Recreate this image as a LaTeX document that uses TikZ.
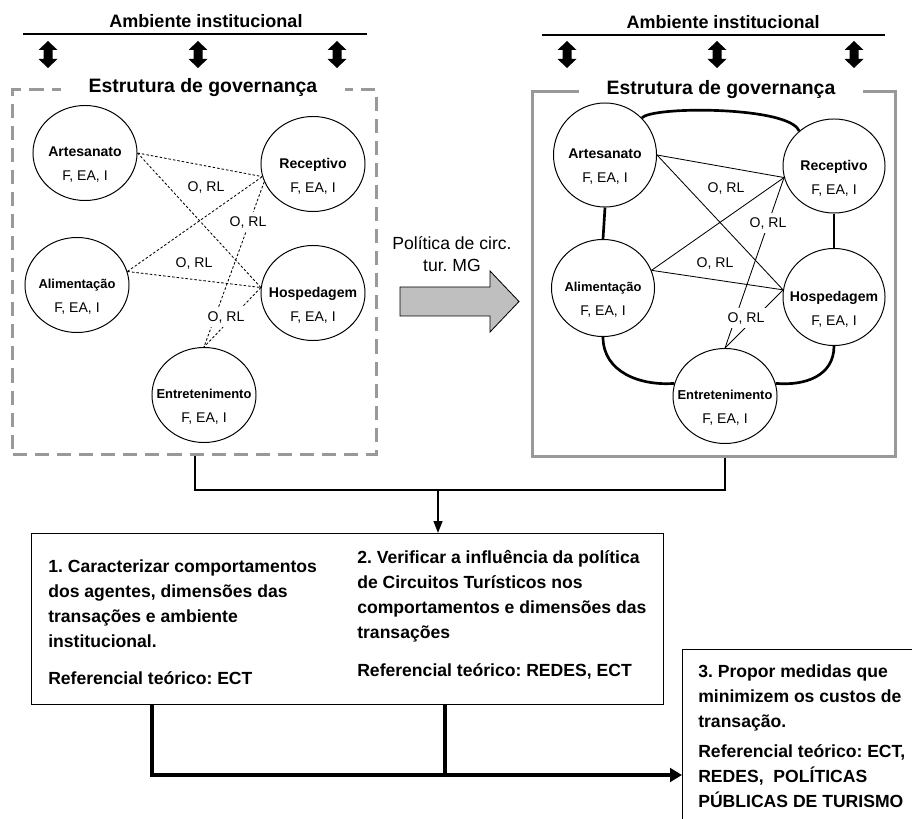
\documentclass[tikz,border=0pt]{standalone}
\usepackage{fontspec}
\setmainfont{Liberation Sans}
\usetikzlibrary{shapes.geometric, arrows.meta, positioning}
\frenchspacing

\begin{document}
\begin{tikzpicture}[x=0.025cm, y=-0.025cm,
  agent/.style={ellipse, draw, line width=0.7pt, minimum width=26mm, minimum height=23.75mm, inner sep=0pt},
  agtext/.style={align=center, yshift=-3mm, font=\fontsize{10}{17}\selectfont},
  rel/.style={fill=white, inner sep=1mm, font=\fontsize{10}{12}\selectfont},
  weak/.style={line width=0.6pt, dash pattern=on 1.8pt off 1.4pt},
  tie/.style={line width=0.6pt},
  strong/.style={line width=1.9pt},
  govbox/.style={draw=black!40, line width=2.1pt, inner sep=0pt},
  govtitle/.style={fill=white, inner xsep=7mm, inner ysep=0.5mm, font=\fontsize{13.8}{16}\selectfont\bfseries},
  ambtitle/.style={font=\fontsize{12.8}{15}\selectfont\bfseries},
  flow/.style={line width=1.4pt},
  bigflow/.style={line width=2.4pt},
  goaltext/.style={align=left, anchor=north west, inner sep=0pt, font=\fontsize{12.5}{17.8}\selectfont\bfseries},
]
\useasboundingbox (0,0) rectangle (912,819);
\clip (0,0) rectangle (912,819);

% ambiente institucional
\node[ambtitle] (ambL) at (206,21) {Ambiente institucional};
\node[ambtitle] (ambR) at (723,22) {Ambiente institucional};
\draw[line width=2.1pt] (23,34) -- (367,34);
\draw[line width=2.1pt] (542,35) -- (885,35);
\foreach \ax in {48,198,337,567,717,854}
    \fill (\ax-4.5,50) -- (\ax-9.5,50) -- (\ax,41) -- (\ax+9.5,50) -- (\ax+4.5,50) -- (\ax+4.5,59) -- (\ax+9.5,59) -- (\ax,68) -- (\ax-9.5,59) -- (\ax-4.5,59) -- cycle;

% estrutura de governanca - antes
\node[govbox, dash pattern=on 10pt off 5.7pt, minimum width=90.75mm, minimum height=91mm] (govL) at (194.5,272) {};
\node[govtitle] (titL) at (203,88) {Estrutura de governança};

\node[agent, label={[agtext]center:{\textbf{Artesanato}\\F, EA, I}}] (artL) at (85,153) {};
\node[agent, label={[agtext]center:{\textbf{Receptivo}\\F, EA, I}}] (recL) at (313,164) {};
\node[agent, label={[agtext]center:{\textbf{\fontsize{9.2}{17}\selectfont Alimentação}\\F, EA, I}}] (aliL) at (77,285) {};
\node[agent, label={[agtext]center:{\textbf{Hospedagem}\\F, EA, I}}] (hosL) at (313,293) {};
\node[agent, label={[agtext]center:{\textbf{\fontsize{9.2}{17}\selectfont Entretenimento}\\F, EA, I}}] (entL) at (204,395) {};

\draw[weak] (artL.east) -- (recL.194);
\draw[weak] (artL.east) -- (hosL.174);
\draw[weak] (aliL.15) -- (recL.194);
\draw[weak] (aliL.15) -- (hosL.174);
\draw[weak] (recL.200) -- (entL.90);
\draw[weak] (hosL.174) -- (entL.90);

\node[rel] (r1L) at (206,187) {O, RL};
\node[rel] (r2L) at (248,222) {O, RL};
\node[rel] (r3L) at (194,263) {O, RL};
\node[rel] (r4L) at (226,317) {O, RL};

% politica
\filldraw[fill=black!25, line width=0.6pt] (400,287) -- (490,287) -- (490,271) -- (519,301.5) -- (490,332) -- (490,316) -- (400,316) -- cycle;
\node[font=\fontsize{12.5}{15.6}\selectfont, align=center] (policy) at (452,254) {Política de circ.\\tur. MG};

% estrutura de governanca - depois
\node[govbox, minimum width=90.5mm, minimum height=91mm] (govR) at (714,274) {};
\node[govtitle] (titR) at (721,90) {Estrutura de governança};

\node[agent, minimum width=25.75mm, minimum height=26mm, label={[agtext]center:{\textbf{Artesanato}\\F, EA, I}}] (artR) at (605,155) {};
\node[agent, minimum width=25.5mm, minimum height=23.5mm, label={[agtext]center:{\textbf{Receptivo}\\F, EA, I}}] (recR) at (834,166) {};
\node[agent, minimum width=25.75mm, minimum height=24.25mm, label={[agtext]center:{\textbf{\fontsize{9.2}{17}\selectfont Alimentação}\\F, EA, I}}] (aliR) at (603,288) {};
\node[agent, minimum width=25.5mm, minimum height=24.25mm, label={[agtext]center:{\textbf{Hospedagem}\\F, EA, I}}] (hosR) at (834,297) {};
\node[agent, minimum width=26mm, minimum height=23.75mm, label={[agtext]center:{\textbf{\fontsize{9.2}{17}\selectfont Entretenimento}\\F, EA, I}}] (entR) at (725,396) {};

\draw[strong] (artR.45) .. controls (650,106) and (790,106) .. (recR.135);
\draw[strong] (artR.south) -- (aliR.north);
\draw[strong] (recR.south) -- (hosR.north);
\draw[strong] (aliR.south) .. controls (603,372) and (640,386) .. (entR.166);
\draw[strong] (hosR.south) .. controls (834,376) and (805,386) .. (entR.14);

\draw[tie] (artR.east) -- (recR.193);
\draw[tie] (artR.east) -- (hosR.172);
\draw[tie] (aliR.20) -- (recR.193);
\draw[tie] (aliR.20) -- (hosR.172);
\draw[tie] (recR.193) -- (entR.90);
\draw[tie] (hosR.172) -- (entR.90);

\node[rel] (r1R) at (726,188) {O, RL};
\node[rel] (r2R) at (768,223) {O, RL};
\node[rel] (r3R) at (715,263) {O, RL};
\node[rel] (r4R) at (746,318) {O, RL};

% objetivos
\node[draw, line width=0.6pt, anchor=north west, minimum width=158mm, minimum height=42.75mm, inner sep=0pt] (objbox) at (31,533) {};
\node[goaltext] (goal1) at (48,559) {1. Caracterizar comportamentos\\dos agentes, dimensões das\\transações e ambiente\\institucional.\\[8.5pt]Referencial teórico: ECT};
\node[goaltext] (goal2) at (357,550) {2. Verificar a influência da política\\de Circuitos Turísticos nos\\comportamentos e dimensões das\\transações\\[9pt]Referencial teórico: REDES, ECT};
\node[draw, line width=0.6pt, anchor=north west, minimum width=70mm, minimum height=50mm, inner sep=0pt] (propbox) at (682,649) {};
\node[goaltext] (goal3) at (698,664) {3. Propor medidas que\\minimizem os custos de\\transação.\\[3.6pt]Referencial teórico: ECT,\\REDES,\ \ POLÍTICAS\\PÚBLICAS DE TURISMO};

\coordinate (jL) at (195,490);
\coordinate (jR) at (725,490);
\coordinate (jM) at (438,490);
\draw[flow] (jL |- govL.south) -- (jL) -- (jR) -- (jR |- govR.south);
\draw[flow, -{Triangle[length=3mm, width=2.2mm]}] (jM) -- (jM |- objbox.north);

\coordinate (k1) at (152,775);
\coordinate (k2) at (445,775);
\draw[bigflow, -{Triangle[length=3mm, width=3.4mm]}] (k1 |- objbox.south) -- (k1) -- (k1 -| propbox.west);
\draw[bigflow] (k2 |- objbox.south) -- (k2);
\end{tikzpicture}
\end{document}
